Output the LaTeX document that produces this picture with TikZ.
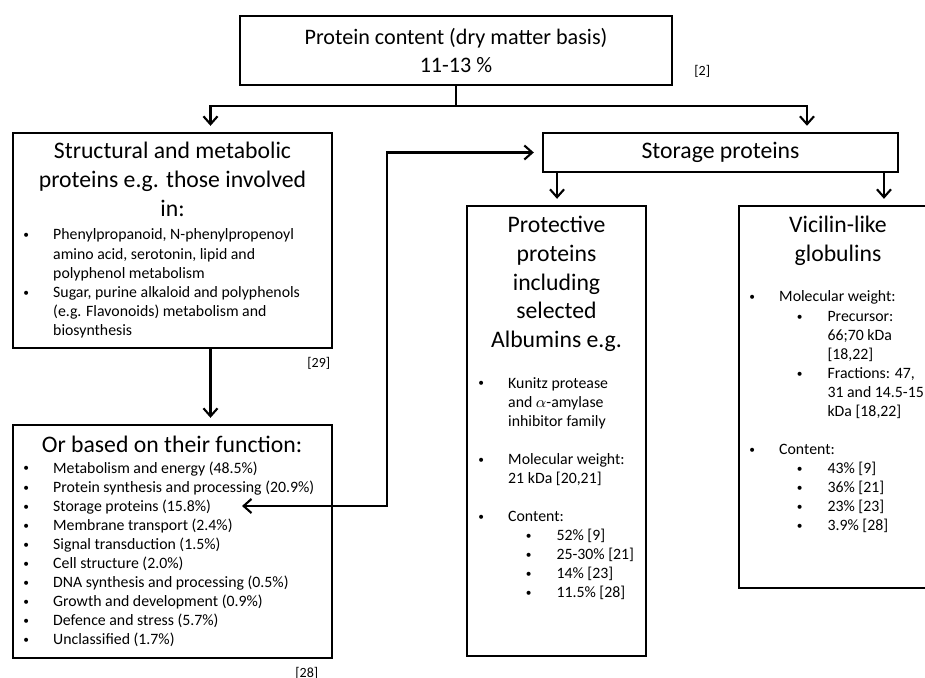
\documentclass[tikz,border=0pt]{standalone}
\usepackage{fontspec}
\setmainfont{Carlito}
\usetikzlibrary{arrows.meta}

% list rows: bullet, continuation, sub-bullet, sub-continuation
\newcommand{\blt}{\raisebox{0.6pt}{\fontsize{6.5}{6.5}\selectfont\textbullet}}
\newcommand{\itm}[1]{\makebox[17pt][l]{\blt}#1}
\newcommand{\cnt}[1]{\hspace*{17pt}#1}
\newcommand{\sitm}[1]{\hspace*{27pt}\makebox[17.5pt][l]{\blt}#1}
\newcommand{\scnt}[1]{\hspace*{44.5pt}#1}
\newcommand{\txtrows}[1]{\begin{tabular}[t]{@{}l@{}}#1\end{tabular}}
\newcommand{\hdrows}[1]{\begin{tabular}[t]{@{}c@{}}#1\end{tabular}}

\begin{document}
\begin{tikzpicture}[x=0.02cm, y=-0.02cm,
    box/.style={draw, line width=1.4pt, inner sep=0pt},
    arr/.style={line width=1.2pt, -{Straight Barb[length=4.5pt,width=8pt]}, shorten >=0.12cm},
    dbl/.style={line width=1.2pt, {Straight Barb[length=4.5pt,width=8pt]}-{Straight Barb[length=4.5pt,width=8pt]}, shorten <=0.16cm},
    head/.style={anchor=base, inner sep=0pt, font=\fontsize{13.5}{16.3}\selectfont},
    list/.style={anchor=base west, inner sep=0pt, font=\fontsize{9}{10.85}\selectfont},
    ref/.style={anchor=base west, inner sep=0pt, font=\fontsize{8}{9.6}\selectfont}]
    \useasboundingbox (0,0) rectangle (925,678);
    \clip (0,0) rectangle (925,678);

    % Top box
    \node[box, minimum width=8.64cm, minimum height=1.38cm, align=center,
          font=\fontsize{12.6}{15.6}\selectfont] (top) at (456,50.5)
          {Protein content (dry matter basis)\\11-13 \%};
    \node[ref] (reftop) at (694,76) {[2]};

    % Left column
    \node[box, minimum width=6.38cm, minimum height=4.30cm] (struct) at (172.5,240.5) {};
    \node[head] (structhd) at (172.5,159) {\hdrows{Structural and metabolic\\proteins e.g. those involved\\in:}};
    \node[list] (structls) at (23,240) {\txtrows{
        \itm{Phenylpropanoid, N-phenylpropenoyl}\\
        \cnt{amino acid, serotonin, lipid and}\\
        \cnt{polyphenol metabolism}\\
        \itm{Sugar, purine alkaloid and polyphenols}\\
        \cnt{(e.g. Flavonoids) metabolism and}\\
        \cnt{biosynthesis}}};
    \node[ref] (refstruct) at (307,367) {[29]};

    \node[box, minimum width=6.38cm, minimum height=4.66cm] (func) at (172.5,541.5) {};
    \node[head] (funchd) at (172,452) {Or based on their function:};
    \node[list] (funcls) at (23,473) {\txtrows{
        \itm{Metabolism and energy (48.5\%)}\\
        \itm{Protein synthesis and processing (20.9\%)}\\
        \itm{Storage proteins (15.8\%)}\\
        \itm{Membrane transport (2.4\%)}\\
        \itm{Signal transduction (1.5\%)}\\
        \itm{Cell structure (2.0\%)}\\
        \itm{DNA synthesis and processing (0.5\%)}\\
        \itm{Growth and development (0.9\%)}\\
        \itm{Defence and stress (5.7\%)}\\
        \itm{Unclassified (1.7\%)}}};
    \node[ref] (reffunc) at (295,677) {[28]};

    % Storage proteins
    \node[box, minimum width=7.10cm, minimum height=0.78cm,
          font=\fontsize{13.5}{16.3}\selectfont] (storage) at (720.5,152.5) {Storage proteins};

    \node[box, minimum width=3.58cm, minimum height=9.0cm] (prot) at (556.5,431) {};
    \node[head] (prothd) at (556.5,233) {\hdrows{Protective\\proteins\\including\\selected\\Albumins e.g.}};
    \node[list] (protls) at (478,388) {\txtrows{
        \itm{Kunitz protease}\\
        \cnt{and $\alpha$-amylase}\\
        \cnt{inhibitor family}\\
        \\
        \itm{Molecular weight:}\\
        \cnt{21 kDa [20,21]}\\
        \\
        \itm{Content:}\\
        \sitm{52\% [9]}\\
        \sitm{25-30\% [21]}\\
        \sitm{14\% [23]}\\
        \sitm{11.5\% [28]}}};

    \node[box, minimum width=3.96cm, minimum height=7.64cm] (vic) at (838,397) {};
    \node[head] (vichd) at (838,233) {\hdrows{Vicilin-like\\globulins}};
    \node[list] (vicls) at (749,302) {\txtrows{
        \itm{Molecular weight:}\\
        \sitm{Precursor:}\\
        \scnt{66;70 kDa}\\
        \scnt{[18,22]}\\
        \sitm{Fractions: 47,}\\
        \scnt{31 and 14.5-15}\\
        \scnt{kDa [18,22]}\\
        \\
        \itm{Content:}\\
        \sitm{43\% [9]}\\
        \sitm{36\% [21]}\\
        \sitm{23\% [23]}\\
        \sitm{3.9\% [28]}}};

    % Arrows
    \coordinate (sl) at ([xshift=-3.27cm]storage.south);
    \coordinate (sr) at ([xshift=3.27cm]storage.south);
    \coordinate (stp) at (242,506);
    \draw[arr] (top.south) -- ++(0,20) -| ([xshift=0.76cm]struct.north);
    \draw[arr] (top.south) -- ++(0,20) -| ([xshift=1.73cm]storage.north);
    \draw[arr] ([xshift=0.76cm]struct.south) -- ([xshift=0.76cm]func.north);
    \draw[arr] (sl) -- (sl |- prot.north);
    \draw[arr] (sr) -- (sr |- vic.north);
    \draw[dbl] (storage.west) -- ++(-3.1cm,0) |- (stp);
\end{tikzpicture}
\end{document}
